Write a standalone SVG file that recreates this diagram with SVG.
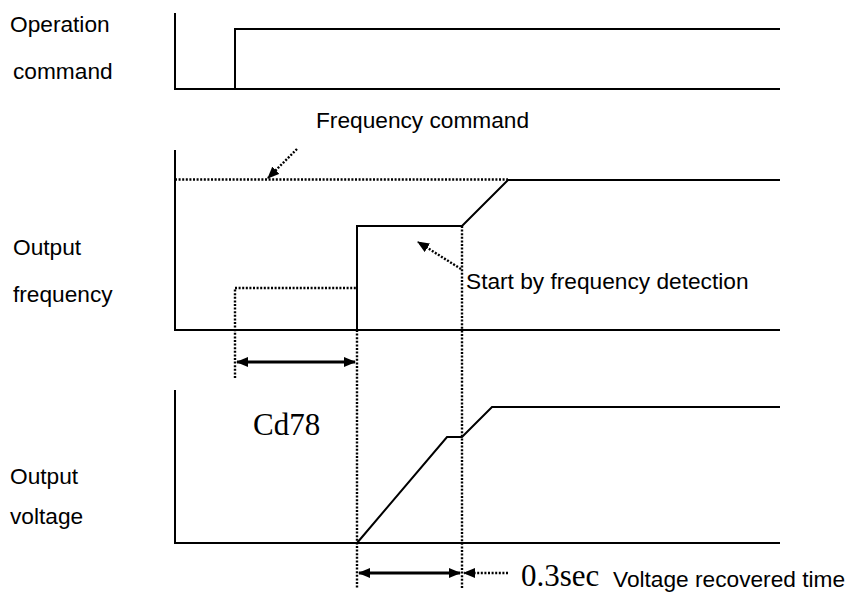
<svg xmlns="http://www.w3.org/2000/svg" width="850" height="594" viewBox="0 0 850 594">
<defs>
<marker id="ah" viewBox="0 0 12 10" refX="11" refY="5" markerWidth="12" markerHeight="10" markerUnits="userSpaceOnUse" orient="auto-start-reverse"><path d="M0,0 L12,5 L0,10 Z" fill="#000"/></marker>
</defs>
<style>
.lbl{font-family:"Liberation Sans",Arial,sans-serif;font-size:22.7px;fill:#000}
.ser{font-family:"Liberation Serif","Times New Roman",serif;font-size:31px;fill:#000}
.sol{fill:none;stroke:#000;stroke-width:2}
.dot{fill:none;stroke:#000;stroke-width:2.4;stroke-dasharray:2 1.6}
.dim{fill:none;stroke:#000;stroke-width:3}
</style>
<rect width="850" height="594" fill="#fff"/>
<g id="op-command">
<text class="lbl" x="10" y="32">Operation</text>
<text class="lbl" x="13" y="79">command</text>
<polyline class="sol" points="175,13 175,89 780,89"/>
<polyline class="sol" points="235,89 235,29 780,29"/>
</g>
<g id="out-frequency">
<text class="lbl" x="13" y="255">Output</text>
<text class="lbl" x="13" y="302">frequency</text>
<polyline class="sol" points="175,150 175,330 780,330"/>
<line class="dot" x1="175" y1="179.5" x2="508" y2="179.5"/>
<polyline class="sol" points="357,330 357,226 462,226 508,180 780,180"/>
<polyline class="dot" points="235,378 235,288 357,288"/>
<text class="lbl" x="316" y="128">Frequency command</text>
<text class="lbl" x="466" y="289">Start by frequency detection</text>
</g>
<g id="out-voltage">
<text class="lbl" x="10" y="484">Output</text>
<text class="lbl" x="10" y="524">voltage</text>
<polyline class="sol" points="175,390 175,543 780,543"/>
<polyline class="sol" points="357,543 447,437 462,437 492,407 780,407"/>
<text class="ser" x="253" y="435">Cd78</text>
<text class="ser" x="521" y="586">0.3sec</text>
<text class="lbl" x="613" y="587">Voltage recovered time</text>
</g>
<g id="connectors">
<line class="dot" x1="357" y1="330" x2="357" y2="588"/>
<line class="dot" x1="462" y1="226" x2="462" y2="588"/>
<line class="dot" x1="297" y1="149" x2="268" y2="178" marker-end="url(#ah)"/>
<line class="dot" x1="461" y1="269" x2="418" y2="242" marker-end="url(#ah)"/>
<line class="dim" x1="237" y1="362" x2="355" y2="362" marker-start="url(#ah)" marker-end="url(#ah)"/>
<line class="dim" x1="359" y1="573" x2="460" y2="573" marker-start="url(#ah)" marker-end="url(#ah)"/>
<line class="dot" x1="508" y1="573" x2="464" y2="573" marker-end="url(#ah)"/>
</g>
</svg>
